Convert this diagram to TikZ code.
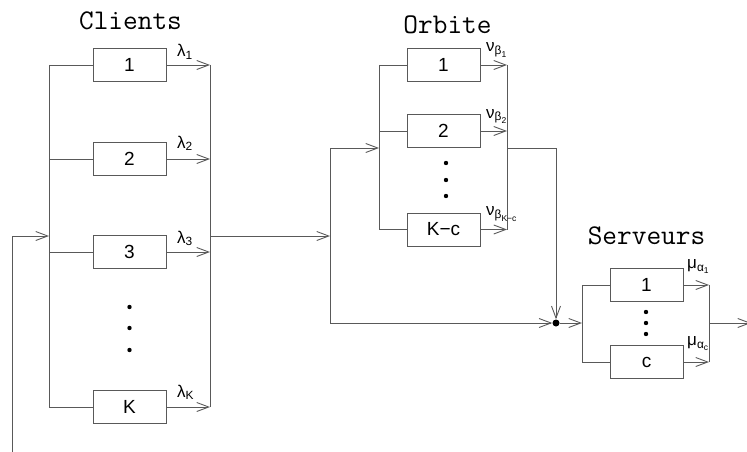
\documentclass[tikz,border=0pt]{standalone}
\usepackage{amsmath}
\usepackage{fontspec}
\setmainfont{Liberation Sans}
\usetikzlibrary{arrows.meta, positioning, calc}

\newcommand{\rt}[2]{$\text{#1}_{\text{#2}}$}
\newcommand{\rtt}[3]{$\text{#1}_{\text{#2}_{\text{#3}}}$}

\begin{document}
\begin{tikzpicture}[
  x=1pt, y=-1pt,
  box/.style={rectangle, draw=black!65, line width=0.9pt, minimum width=73pt,
              minimum height=33pt, inner sep=0pt, font=\fontsize{19}{21}\selectfont},
  title/.style={font=\ttfamily\fontsize{28.5}{30}\selectfont, anchor=base, inner sep=0pt},
  rate/.style={font=\fontsize{17}{19}\selectfont, anchor=base west, inner sep=0pt},
  wire/.style={line width=0.9pt, draw=black!65},
  junction/.style={circle, fill=black, inner sep=0pt, minimum size=7pt},
  >={Straight Barb[length=12pt, width=9pt, line width=0.9pt]}
]
\useasboundingbox (0,0) rectangle (747,452);

% ── Clients ──
\node[title] (tcl) at (130.5,30) {Clients};
\node[box] (c1) at (129.5,65) {1};
\node[box] (c2) at (129.5,159) {2};
\node[box] (c3) at (129.5,252) {3};
\node[box] (cK) at (129.5,407) {K};
\coordinate (cl) at (49,0);
\coordinate (cr) at (210,0);
\draw[wire] (c1 -| cl) -- (cK -| cl);
\draw[wire] (c1 -| cr) -- (cK -| cr);
\foreach \n in {c1,c2,c3,cK} {
  \draw[wire] (\n -| cl) -- (\n.west);
  \draw[wire,->] (\n.east) -- (\n -| cr);
}
\foreach \y in {307,328,350} \fill (c1 |- 0,\y) circle (2.2pt);

\node[rate] (lc1) at ($(c1 -| cr)+(-33,-8)$) {\rt{λ}{1}};
\node[rate] (lc2) at ($(c2 -| cr)+(-33,-11)$) {\rt{λ}{2}};
\node[rate] (lc3) at ($(c3 -| cr)+(-33,-9)$) {\rt{λ}{3}};
\node[rate] (lcK) at ($(cK -| cr)+(-33,-10)$) {\rt{λ}{K}};

% ── Feedback and split ──
\coordinate (fb) at (12,452);
\coordinate (cin) at (49,236);
\draw[wire,->] (fb) |- (cin);
\coordinate (cout) at (210,236);
\coordinate (sp) at (330,236);
\draw[wire,->] (cout) -- (sp);
\coordinate (sptop) at (330,148);
\coordinate (spbot) at (330,323);
\draw[wire] (sptop) -- (spbot);

% ── Orbite ──
\node[title] (tor) at (447.5,34) {Orbite};
\node[box] (o1) at (443.5,65) {1};
\node[box] (o2) at (443.5,131) {2};
\node[box] (oKc) at (443.5,229.5) {K−c};
\coordinate (ol) at (379,0);
\coordinate (or) at (507,0);
\draw[wire] (o1 -| ol) -- (oKc -| ol);
\draw[wire] (o1 -| or) -- (oKc -| or);
\foreach \n in {o1,o2,oKc} {
  \draw[wire] (\n -| ol) -- (\n.west);
  \draw[wire,->] (\n.east) -- (\n -| or);
}
\foreach \y in {163,180,196} \fill (446,\y) circle (2.2pt);
\draw[wire,->] (sptop) -- (sptop -| ol);

\node[rate] (lo1) at ($(o1 -| or)+(-21,-13)$) {\rtt{ν}{β}{1}};
\node[rate] (lo2) at ($(o2 -| or)+(-21,-13)$) {\rtt{ν}{β}{2}};
\node[rate] (loKc) at ($(oKc -| or)+(-21,-14)$) {\rtt{ν}{β}{K−c}};

% ── Junction ──
\coordinate (oout) at (507,148);
\node[junction] (j) at (556,323) {};
\draw[wire,->] (oout) -| (j.north);
\draw[wire,->] (spbot) -- (j.west);

% ── Serveurs ──
\node[title] (tse) at (646.5,244) {Serveurs};
\node[box] (s1) at (646.5,285) {1};
\node[box] (sc) at (646.5,362) {c};
\coordinate (sl) at (582,0);
\coordinate (sr) at (709,0);
\draw[wire,->] (j.east) -- (j -| sl);
\draw[wire] (s1 -| sl) -- (sc -| sl);
\draw[wire] (s1 -| sr) -- (sc -| sr);
\foreach \n in {s1,sc} {
  \draw[wire] (\n -| sl) -- (\n.west);
  \draw[wire,->] (\n.east) -- (\n -| sr);
}
\foreach \y in {312,323,334} \fill (646,\y) circle (2.2pt);
\coordinate (exit) at (751,323);
\draw[wire,->] (j -| sr) -- (exit);

\node[rate] (ls1) at ($(s1 -| sr)+(-22,-17)$) {\rtt{μ}{α}{1}};
\node[rate] (lsc) at ($(sc -| sr)+(-22,-17)$) {\rtt{μ}{α}{c}};

\end{tikzpicture}
\end{document}
